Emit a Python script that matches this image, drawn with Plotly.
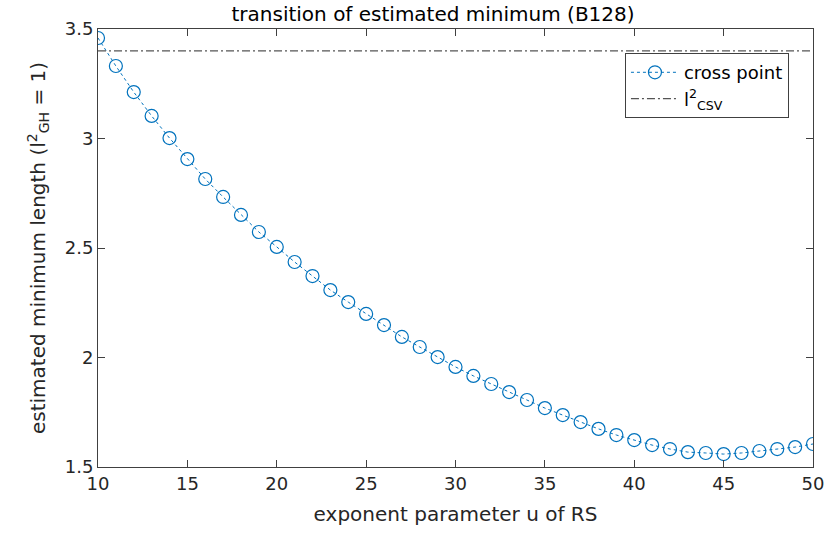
import plotly.graph_objects as go

u_values = list(range(10, 51))
cross_point = [3.459, 3.331, 3.212, 3.103, 3.002, 2.906, 2.815, 2.733, 2.651, 2.573,
               2.505, 2.436, 2.372, 2.308, 2.253, 2.199, 2.148, 2.094, 2.048, 2.002,
               1.957, 1.916, 1.879, 1.842, 1.806, 1.769, 1.737, 1.705, 1.674, 1.646,
               1.623, 1.600, 1.582, 1.568, 1.564, 1.559, 1.564, 1.573, 1.582, 1.591,
               1.605]
csv_level = 3.40
csv_x = [10, 50]

FONT = "DejaVu Sans, sans-serif"
BLUE = "#0072BD"
AX = "#404040"

fig = go.Figure()
fig.add_trace(go.Scatter(
    x=u_values, y=cross_point, mode="lines+markers", name="cross point",
    line=dict(color=BLUE, width=1, dash="dot"),
    marker=dict(symbol="circle-open", size=13, color=BLUE, line=dict(width=1.2, color=BLUE)),
))
fig.add_trace(go.Scatter(
    x=csv_x, y=[csv_level, csv_level], mode="lines", name="l<sup>2</sup><sub>CSV</sub>",
    line=dict(color="#555555", width=1.2, dash="8px,3px,2px,3px"),
))

axis_common = dict(
    showline=True, linecolor=AX, linewidth=1, mirror="ticks",
    ticks="inside", ticklen=7, tickcolor=AX, tickwidth=1,
    showgrid=False, zeroline=False, automargin=False,
    tickfont=dict(family=FONT, size=18, color="#262626"),
)

fig.update_layout(
    width=828, height=533,
    margin=dict(l=98, r=15, t=29, b=66),
    plot_bgcolor="white", paper_bgcolor="white",
    font=dict(family=FONT, size=18, color="#262626"),
    title=dict(text="transition of estimated minimum (B128)", x=0.523, xanchor="center",
               y=1 - 14 / 533, yanchor="middle", yref="container",
               font=dict(family=FONT, size=20, color="#000000")),
    xaxis=dict(range=[10, 50], tickvals=[10, 15, 20, 25, 30, 35, 40, 45, 50],
               title=dict(text="exponent parameter u of RS", standoff=14,
                          font=dict(family=FONT, size=20, color="#262626")),
               **axis_common),
    yaxis=dict(range=[1.5, 3.5], tickvals=[1.5, 2, 2.5, 3, 3.5],
               ticktext=["1.5", "2", "2.5", "3", "3.5"],
               title=dict(text="estimated minimum length (l<sup>2</sup><sub>GH</sub> = 1)", standoff=13,
                          font=dict(family=FONT, size=20, color="#262626")),
               **axis_common),
    legend=dict(x=0.737, y=0.945, xanchor="left", yanchor="top",
                bgcolor="white", bordercolor=AX, borderwidth=1,
                font=dict(family=FONT, size=18, color="#000000"),
                tracegroupgap=0, itemwidth=48),
    showlegend=True,
)

fig.write_html("out.html")
